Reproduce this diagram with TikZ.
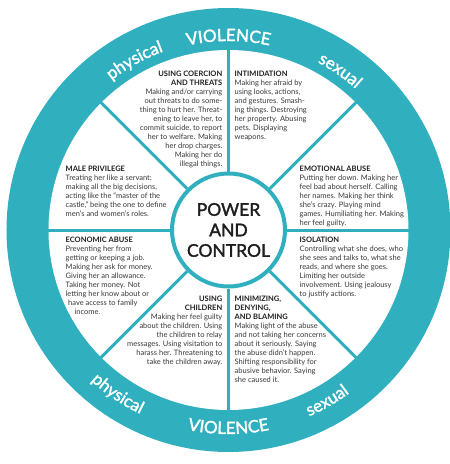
\documentclass[tikz,border=0pt]{standalone}
\usepackage{fontspec}
\setmainfont{Lato}
\newfontfamily\latomid[FakeBold=1.8]{Lato}
\usepackage{xcolor}
\definecolor{wheelteal}{RGB}{48, 176, 191}
\definecolor{wheeltext}{RGB}{58, 58, 58}
\definecolor{wheeldark}{RGB}{30, 30, 30}
\usetikzlibrary{decorations.text}
\newcommand{\ringfont}{\latomid\fontsize{17}{17}\selectfont}

\begin{document}
\begin{tikzpicture}[x=1pt, y=1pt,
  spoke/.style={draw=wheelteal, line width=3pt},
  hub/.style={circle, draw=wheelteal, line width=4pt, fill=white, minimum size=113pt, inner sep=0pt, align=center, text=wheeldark, font=\latomid\fontsize{17.5}{20.5}\selectfont},
  lblleft/.style={align=left, anchor=north west, inner sep=0pt, text=wheeltext, font=\fontsize{7.5}{9}\selectfont},
  lblright/.style={align=right, anchor=north east, inner sep=0pt, text=wheeltext, font=\fontsize{7.5}{9}\selectfont},
  ringword/.style={decorate, decoration={text along path, text align=center, text color=white, text={|\ringfont|#1}}}
]
  \useasboundingbox (-228.5,-234) rectangle (221.5,230);

  % Outer ring
  \fill[wheelteal] (0,0) circle[radius=222];
  \fill[white] (0,0) circle[radius=180];

  % Ring words, top
  \path[ringword={physical}] (149:190) arc[start angle=149, end angle=89, radius=190];
  \path[ringword={VIOLENCE}] (120:189) arc[start angle=120, end angle=60, radius=189];
  \path[ringword={sexual}]   (85:190)  arc[start angle=85, end angle=25, radius=190];
  % Ring words, bottom
  \path[ringword={physical}] (206:204) arc[start angle=206, end angle=266, radius=204];
  \path[ringword={VIOLENCE}] (240:204) arc[start angle=240, end angle=300, radius=204];
  \path[ringword={sexual}]   (270:203) arc[start angle=270, end angle=330, radius=203];

  % Hub and spokes
  \node[hub] (hub) at (0,0) {POWER\\AND\\CONTROL};
  \foreach \a in {0,45,...,315} {
    \draw[spoke] (hub.\a) -- (\a:181);
  }

  % Sectors
  \node[lblright] (coercion) at (-6,158.7) {\textbf{\color{wheeldark}USING COERCION}\\\textbf{\color{wheeldark}AND THREATS}\\Making and/or carrying\\out threats to do some-\\thing to hurt her. Threat-\\ening to leave her, to\\commit suicide, to report\\her to welfare. Making\\her drop charges.\\Making her do\\illegal things.};
  \node[lblleft] (intimidation) at (6,158.7) {\textbf{\color{wheeldark}INTIMIDATION}\\Making her afraid by\\using looks, actions,\\and gestures. Smash-\\ing things. Destroying\\her property. Abusing\\pets. Displaying\\weapons.};
  \node[lblleft] (emotional) at (71,64.4) {\textbf{\color{wheeldark}EMOTIONAL ABUSE}\\Putting her down. Making her\\feel bad about herself. Calling\\her names. Making her think\\she’s crazy. Playing mind\\games. Humiliating her. Making\\her feel guilty.};
  \node[lblleft] (isolation) at (71,-7.3) {\textbf{\color{wheeldark}ISOLATION}\\Controlling what she does, who\\she sees and talks to, what she\\reads, and where she goes.\\Limiting her outside\\involvement. Using jealousy\\to justify actions.};
  \node[lblleft] (minimizing) at (6,-66.3) {\textbf{\color{wheeldark}MINIMIZING,}\\\textbf{\color{wheeldark}DENYING,}\\\textbf{\color{wheeldark}AND BLAMING}\\Making light of the abuse\\and not taking her concerns\\about it seriously. Saying\\the abuse didn’t happen.\\Shifting responsibility for\\abusive behavior. Saying\\she caused it.};
  \node[lblright] (children) at (-6,-66.3) {\textbf{\color{wheeldark}USING}\\\textbf{\color{wheeldark}CHILDREN}\\Making her feel guilty\\about the children. Using\\the children to relay\\messages. Using visitation to\\harass her. Threatening to\\take the children away.};
  \node[lblleft] (economic) at (-163,-7.3) {\textbf{\color{wheeldark}ECONOMIC ABUSE}\\Preventing her from\\getting or keeping a job.\\Making her ask for money.\\Giving her an allowance.\\Taking her money. Not\\letting her know about or\\\hspace*{2.5pt}have access to family\\\hspace*{9pt}income.};
  \node[lblleft] (privilege) at (-163,64.4) {\textbf{\color{wheeldark}MALE PRIVILEGE}\\Treating her like a servant:\\making all the big decisions,\\acting like the “master of the\\castle,” being the one to define\\men’s and women’s roles.};
\end{tikzpicture}
\end{document}
